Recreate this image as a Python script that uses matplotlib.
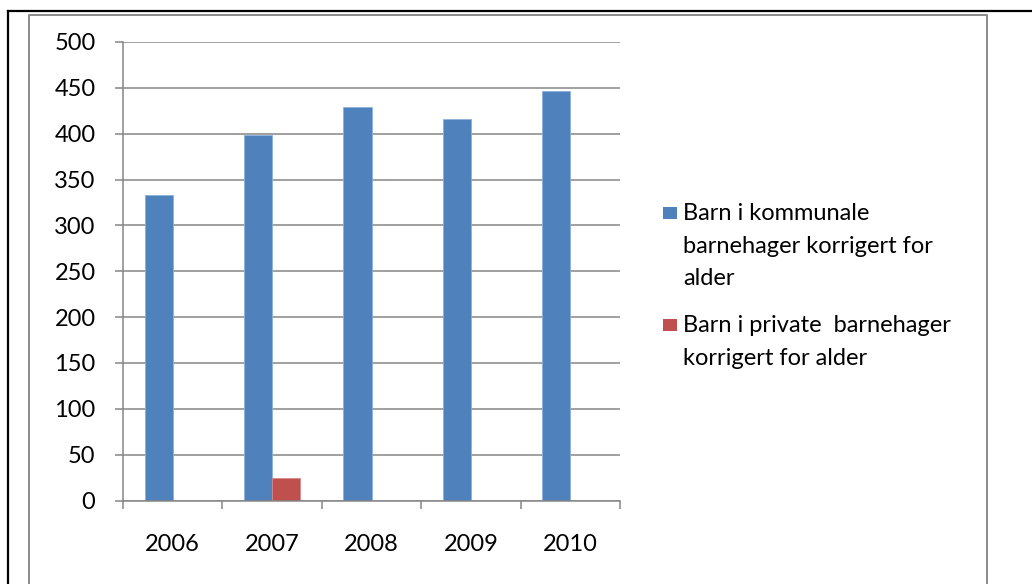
import matplotlib
matplotlib.use("Agg")
import numpy as np
import matplotlib.pyplot as plt
from matplotlib.patches import Rectangle
from matplotlib.lines import Line2D

# data
years = ["2006", "2007", "2008", "2009", "2010"]
kommunale = [333, 399, 429, 416, 447]
private = [np.nan, 25, np.nan, np.nan, np.nan]
series_labels = [
    "Barn i kommunale\nbarnehager korrigert for\nalder",
    "Barn i private  barnehager\nkorrigert for alder",
]
series_colors = ["#4F81BD", "#C0504D"]
edge_colors = ["#8EB0DB", "#D58886"]
yticks = [0, 50, 100, 150, 200, 250, 300, 350, 400, 450, 500]

plt.rcParams["font.family"] = ["Lato", "DejaVu Sans"]
FS = 17
W, H = 1032, 584
fig = plt.figure(figsize=(W / 100, H / 100), dpi=100)
fig.patch.set_facecolor("white")

# outer frames (black page border + grey chart border)
def px(x, y):
    return x / W, 1 - y / H

fig.add_artist(Line2D(*zip(px(8, 11), px(8, 584)), color="black", lw=1.6))
fig.add_artist(Line2D(*zip(px(8, 11), px(1032, 11)), color="black", lw=1.6))
grey = "#8C8C8C"
fig.add_artist(Line2D(*zip(px(29, 584), px(29, 15), px(987, 15), px(987, 584)),
                      color=grey, lw=1.4))

ax = fig.add_axes([123 / W, 83.5 / H, 497 / W, 458.5 / H])
x = np.arange(len(years))
bw = 0.282
ax.bar(x - bw / 2, kommunale, bw, color=series_colors[0],
       edgecolor=edge_colors[0], linewidth=0.6, zorder=3)
ax.bar(x + bw / 2, private, bw, color=series_colors[1],
       edgecolor=edge_colors[1], linewidth=0.6, zorder=3)

ax.set_xlim(-0.5, len(years) - 0.5)
ax.set_ylim(0, 500)
ax.set_yticks(yticks)
ax.set_xticks(x)
ax.set_xticklabels(years)
ax.set_xticks(np.arange(-0.5, len(years)), minor=True)

gc = "#868686"
ax.yaxis.grid(True, color=gc, lw=1.1, zorder=0)
ax.set_axisbelow(True)
for s in ["top", "right"]:
    ax.spines[s].set_visible(False)
for s in ["left", "bottom"]:
    ax.spines[s].set_color(gc)
    ax.spines[s].set_linewidth(1.1)
    ax.spines[s].set_zorder(4)

ax.tick_params(axis="y", length=5.8, width=1.1, color=gc, pad=14,
               labelsize=FS, labelcolor="black")
ax.tick_params(axis="x", which="major", length=0, pad=24,
               labelsize=FS, labelcolor="black")
ax.tick_params(axis="x", which="minor", length=5.8, width=1.1, color=gc)

# legend, built by hand so the swatch sits on the first text line
leg_y = [222, 334]
for lab, col, ly in zip(series_labels, series_colors, leg_y):
    fig.add_artist(Rectangle(px(663, ly - 3), 13.5 / W, 12 / H,
                             facecolor=col, edgecolor="none"))
    fig.text(683 / W, 1 - (ly - 19) / H, lab, fontsize=FS, va="top",
             ha="left", linespacing=1.68)

fig.savefig("out.png", dpi=100, facecolor="white")
